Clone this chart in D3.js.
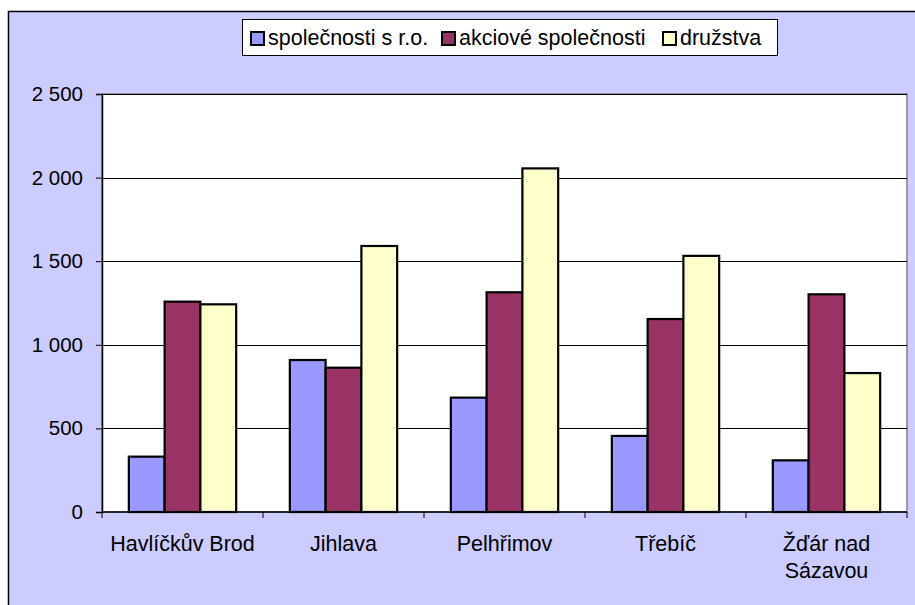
<!DOCTYPE html>
<html>
<head>
<meta charset="utf-8">
<script src="https://cdn.jsdelivr.net/npm/d3@7.9.0/dist/d3.min.js"></script>
<style>
  body { margin: 0; background: #fff; }
  svg text { font-family: "Liberation Sans", Arial, sans-serif; fill: #000; }
</style>
</head>
<body>
<svg id="chart" width="915" height="605"></svg>
<script>
// data
const districts = ["Havlíčkův Brod", "Jihlava", "Pelhřimov", "Třebíč", "Žďár nad Sázavou"];
const seriesNames = ["společnosti s r.o.", "akciové společnosti", "družstva"];
const sro = [331, 909, 684, 455, 309];
const akciove = [1258, 863, 1314, 1154, 1302];
const druzstva = [1242, 1591, 2055, 1532, 831];
const yTicks = [0, 500, 1000, 1500, 2000, 2500];

const colors = ["#9999FF", "#993366", "#FFFFCC"];
const seriesValues = [sro, akciove, druzstva];

const svg = d3.select("#chart");

// chart area background
svg.append("rect")
  .attr("x", 8.5).attr("y", 11.5)
  .attr("width", 920).attr("height", 610)
  .attr("fill", "#CCCCFF")
  .attr("stroke", "#000").attr("stroke-width", 1.5);

const plot = { left: 102, right: 907, top: 94, bottom: 512 };

const x0 = d3.scaleBand()
  .domain(districts)
  .range([plot.left, plot.right]);

// Excel gap width 150% -> 0.75 bar on each side
const x1 = d3.scaleBand()
  .domain(d3.range(seriesNames.length))
  .range([0, x0.bandwidth()])
  .paddingInner(0)
  .paddingOuter(0.75);

const y = d3.scaleLinear()
  .domain([0, 2500])
  .range([plot.bottom, plot.top]);

// plot area
svg.append("rect")
  .attr("x", plot.left).attr("y", plot.top)
  .attr("width", plot.right - plot.left).attr("height", plot.bottom - plot.top)
  .attr("fill", "#fff")
  .attr("stroke", "#808080").attr("stroke-width", 1.5);

// gridlines
svg.append("g")
  .selectAll("line")
  .data(yTicks.filter(d => d > 0))
  .join("line")
  .attr("x1", plot.left).attr("x2", plot.right)
  .attr("y1", d => Math.round(y(d)) + 0.5).attr("y2", d => Math.round(y(d)) + 0.5)
  .attr("stroke", "#000").attr("stroke-width", 1);

// bars
const rows = districts.map((name, i) => ({ name, values: seriesValues.map(s => s[i]) }));

svg.append("g")
  .selectAll("g")
  .data(rows)
  .join("g")
  .attr("transform", d => `translate(${x0(d.name)},0)`)
  .selectAll("rect")
  .data(d => d.values.map((v, k) => ({ k, v })))
  .join("rect")
  .attr("x", d => x1(d.k))
  .attr("y", d => y(d.v))
  .attr("width", x1.bandwidth())
  .attr("height", d => y(0) - y(d.v))
  .attr("fill", d => colors[d.k])
  .attr("stroke", "#000")
  .attr("stroke-width", 2.2);

// y axis
const yAxis = d3.axisLeft(y)
  .tickValues(yTicks)
  .tickSize(6)
  .tickPadding(13)
  .tickFormat(d => d3.format(",")(d).replace(/,/g, "\u00a0"));

const gy = svg.append("g")
  .attr("transform", `translate(${plot.left},0)`)
  .call(yAxis);
gy.select(".domain").attr("stroke", "#000").attr("stroke-width", 1.5);
gy.selectAll(".tick line").attr("stroke", "#000");
gy.selectAll(".tick text")
  .attr("font-size", 20.5)
  .style("font-family", "'Liberation Sans', Arial, sans-serif");

// x axis line and ticks at category boundaries
svg.append("line")
  .attr("x1", plot.left).attr("x2", plot.right)
  .attr("y1", plot.bottom).attr("y2", plot.bottom)
  .attr("stroke", "#000").attr("stroke-width", 1.5);

const bounds = districts.map(d => x0(d)).concat([plot.right]);
svg.append("g")
  .selectAll("line")
  .data(bounds)
  .join("line")
  .attr("x1", d => d).attr("x2", d => d)
  .attr("y1", plot.bottom).attr("y2", plot.bottom + 6)
  .attr("stroke", "#000").attr("stroke-width", 1);

// category labels (Žďár wraps into two lines like the original)
const labelLines = { "Žďár nad Sázavou": ["Žďár nad", "Sázavou"] };
svg.append("g")
  .selectAll("text")
  .data(districts)
  .join("text")
  .attr("x", d => x0(d) + x0.bandwidth() / 2)
  .attr("y", 551)
  .attr("text-anchor", "middle")
  .attr("font-size", 21.5)
  .each(function (d) {
    const lines = labelLines[d] || [d];
    d3.select(this).selectAll("tspan")
      .data(lines)
      .join("tspan")
      .attr("x", x0(d) + x0.bandwidth() / 2)
      .attr("dy", (l, i) => i === 0 ? 0 : 27)
      .text(l => l);
  });

// legend
const legend = svg.append("g");
legend.append("rect")
  .attr("x", 242.5).attr("y", 19.5)
  .attr("width", 535).attr("height", 36)
  .attr("fill", "#fff")
  .attr("stroke", "#000").attr("stroke-width", 1);

const legendX = [251, 442, 663];
const items = legend.selectAll("g.item")
  .data(seriesNames)
  .join("g")
  .attr("class", "item")
  .attr("transform", (d, i) => `translate(${legendX[i]},0)`);

items.append("rect")
  .attr("x", 0).attr("y", 32)
  .attr("width", 13).attr("height", 13)
  .attr("fill", (d, i) => colors[i])
  .attr("stroke", "#000").attr("stroke-width", 2);

items.append("text")
  .attr("x", 17).attr("y", 45)
  .attr("font-size", 21.5)
  .text(d => d);
</script>
</body>
</html>
